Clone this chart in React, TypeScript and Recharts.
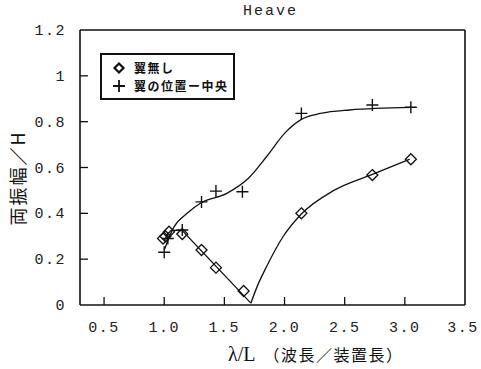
import React from "react";
import { ComposedChart, Line, Scatter, XAxis, YAxis } from "recharts";

const xTicks = [0.5, 1.0, 1.5, 2.0, 2.5, 3.0, 3.5];
const yTicks = [0, 0.2, 0.4, 0.6, 0.8, 1, 1.2];

// 翼無し (measured points)
const noWingPts = [
  { x: 0.99, y: 0.29 },
  { x: 1.01, y: 0.3 },
  { x: 1.04, y: 0.32 },
  { x: 1.15, y: 0.31 },
  { x: 1.31, y: 0.24 },
  { x: 1.43, y: 0.163 },
  { x: 1.66, y: 0.061 },
  { x: 2.14, y: 0.4 },
  { x: 2.73, y: 0.567 },
  { x: 3.05, y: 0.636 },
];
// 翼無し fitted curve, two pieces (sharp kink at the bottom)
const noWingFitA = [
  { x: 1.0, y: 0.28 },
  { x: 1.03, y: 0.31 },
  { x: 1.06, y: 0.327 },
  { x: 1.15, y: 0.325 },
  { x: 1.72, y: 0.008 },
];
const noWingFitB = [
  { x: 1.72, y: 0.008 },
  { x: 1.78, y: 0.09 },
  { x: 1.85, y: 0.167 },
  { x: 1.99, y: 0.3 },
  { x: 2.14, y: 0.397 },
  { x: 2.41, y: 0.5 },
  { x: 2.73, y: 0.57 },
  { x: 3.04, y: 0.636 },
];

// 翼の位置ー中央
const centerPts = [
  { x: 1.0, y: 0.23 },
  { x: 1.03, y: 0.29 },
  { x: 1.15, y: 0.327 },
  { x: 1.31, y: 0.45 },
  { x: 1.43, y: 0.497 },
  { x: 1.65, y: 0.494 },
  { x: 2.14, y: 0.836 },
  { x: 2.73, y: 0.873 },
  { x: 3.05, y: 0.863 },
];
const centerFit = [
  { x: 1.0, y: 0.24 },
  { x: 1.08, y: 0.34 },
  { x: 1.19, y: 0.4 },
  { x: 1.3, y: 0.444 },
  { x: 1.52, y: 0.487 },
  { x: 1.7, y: 0.553 },
  { x: 1.85, y: 0.647 },
  { x: 2.0, y: 0.749 },
  { x: 2.14, y: 0.81 },
  { x: 2.3, y: 0.836 },
  { x: 2.54, y: 0.851 },
  { x: 3.05, y: 0.862 },
];

const ink = "#111";
const tickFont = { fontFamily: "Liberation Mono", fontSize: 15, letterSpacing: 1.5, fill: "#222" };

const isEdgeX = (v: number) => v <= 0.3 || v >= 3.5;
const isEdgeY = (v: number) => v <= 0 || v >= 1.2;
const yLabel = (v: number) => (v === 0 ? "0" : v === 1 ? "1" : v.toFixed(1));

const BottomTick = ({ x, y, payload }: any) => (
  <g>
    {!isEdgeX(payload.value) && <line x1={x} x2={x} y1={y} y2={y - 8} stroke={ink} strokeWidth={1.3} />}
    <text x={payload.value >= 3.5 ? x - 2 : x} y={y + 27} textAnchor="middle" style={tickFont}>
      {payload.value.toFixed(1)}
    </text>
  </g>
);
const TopTick = ({ x, y, payload }: any) =>
  isEdgeX(payload.value) ? <g /> : <line x1={x} x2={x} y1={y} y2={y + 8} stroke={ink} strokeWidth={1.3} />;
const LeftTick = ({ x, y, payload }: any) => (
  <g>
    {!isEdgeY(payload.value) && <line x1={x} x2={x + 8} y1={y} y2={y} stroke={ink} strokeWidth={1.3} />}
    <text x={x - 14} y={y + 5} textAnchor="end" style={tickFont}>
      {yLabel(payload.value)}
    </text>
  </g>
);
const RightTick = ({ x, y, payload }: any) =>
  isEdgeY(payload.value) ? <g /> : <line x1={x} x2={x - 8} y1={y} y2={y} stroke={ink} strokeWidth={1.3} />;

const Diamond = ({ cx, cy }: any) => (
  <path d={`M${cx},${cy - 5.5}L${cx + 5.5},${cy}L${cx},${cy + 5.5}L${cx - 5.5},${cy}Z`} fill="none" stroke={ink} strokeWidth={1.3} />
);
const Plus = ({ cx, cy }: any) => (
  <path d={`M${cx - 6},${cy}H${cx + 6}M${cx},${cy - 6}V${cy + 6}`} stroke={ink} strokeWidth={1.4} />
);

export default function App() {
  return (
    <div style={{ position: "absolute", left: 0, top: 0, width: 481, height: 369, background: "#fff" }}>
      <ComposedChart width={481} height={369} margin={{ top: 0, right: 0, bottom: 0, left: 0 }}>
        <XAxis
          dataKey="x"
          type="number"
          domain={[0.3, 3.5]}
          ticks={xTicks}
          allowDataOverflow
          height={64}
          tickSize={0}
          tickMargin={0}
          tick={<BottomTick />}
          axisLine={{ stroke: ink, strokeWidth: 1.6 }}
        />
        <XAxis
          xAxisId="top"
          orientation="top"
          type="number"
          domain={[0.3, 3.5]}
          ticks={xTicks}
          height={30}
          tickSize={0}
          tickMargin={0}
          tick={<TopTick />}
          axisLine={{ stroke: ink, strokeWidth: 1.6 }}
        />
        <YAxis
          dataKey="y"
          type="number"
          domain={[0, 1.2]}
          ticks={yTicks}
          width={80}
          tickSize={0}
          tickMargin={0}
          tick={<LeftTick />}
          axisLine={{ stroke: ink, strokeWidth: 1.6 }}
        />
        <YAxis
          yAxisId="right"
          orientation="right"
          type="number"
          domain={[0, 1.2]}
          ticks={yTicks}
          width={16}
          tickSize={0}
          tickMargin={0}
          tick={<RightTick />}
          axisLine={{ stroke: ink, strokeWidth: 1.6 }}
        />
        <Line data={noWingFitA} dataKey="y" type="linear" stroke={ink} strokeWidth={1.3} dot={false} isAnimationActive={false} />
        <Line data={noWingFitB} dataKey="y" type="monotone" stroke={ink} strokeWidth={1.3} dot={false} isAnimationActive={false} />
        <Line data={centerFit} dataKey="y" type="monotone" stroke={ink} strokeWidth={1.3} dot={false} isAnimationActive={false} />
        <Scatter data={noWingPts} shape={<Diamond />} isAnimationActive={false} />
        <Scatter data={centerPts} shape={<Plus />} isAnimationActive={false} />
      </ComposedChart>

      <div style={{ position: "absolute", left: 0, width: 481, top: 3, textAlign: "center", paddingLeft: 60, boxSizing: "border-box", fontFamily: "Liberation Mono", fontSize: 15, letterSpacing: 2, color: "#222" }}>
        Heave
      </div>

      <div style={{ position: "absolute", left: 100, top: 53, width: 131, height: 43, border: "2.5px solid #111", background: "#fff", fontFamily: "Noto Sans CJK JP", fontWeight: 700, fontSize: 12, lineHeight: "14px", letterSpacing: 1.5, color: "#111" }}>
        <div style={{ position: "absolute", left: 10, top: 4, height: 17, display: "flex", alignItems: "center" }}>
          <svg width={14} height={14}>
            <path d="M7,2.5L11.5,7L7,11.5L2.5,7Z" fill="none" stroke="#111" strokeWidth={2.2} />
          </svg>
          <span style={{ marginLeft: 8 }}>翼無し</span>
        </div>
        <div style={{ position: "absolute", left: 10, top: 22, height: 17, display: "flex", alignItems: "center" }}>
          <svg width={14} height={14}>
            <path d="M1,7H13M7,1V13" stroke="#111" strokeWidth={1.8} />
          </svg>
          <span style={{ marginLeft: 8 }}>翼の位置ー中央</span>
        </div>
      </div>

      <div style={{ position: "absolute", left: 228, top: 342, whiteSpace: "nowrap", color: "#111" }}>
        <span style={{ fontFamily: "Liberation Serif", fontSize: 20 }}>λ/L</span>
        <span style={{ fontFamily: "Noto Sans CJK JP", fontSize: 16, letterSpacing: 1.5, marginLeft: 8 }}>（波長／装置長）</span>
      </div>

      <div style={{ position: "absolute", left: 17, top: 178, transform: "translate(-50%, -50%) rotate(-90deg)", whiteSpace: "nowrap", fontFamily: "Noto Sans CJK JP", fontSize: 18, letterSpacing: 2, color: "#111" }}>
        両振幅／H
      </div>
    </div>
  );
}
